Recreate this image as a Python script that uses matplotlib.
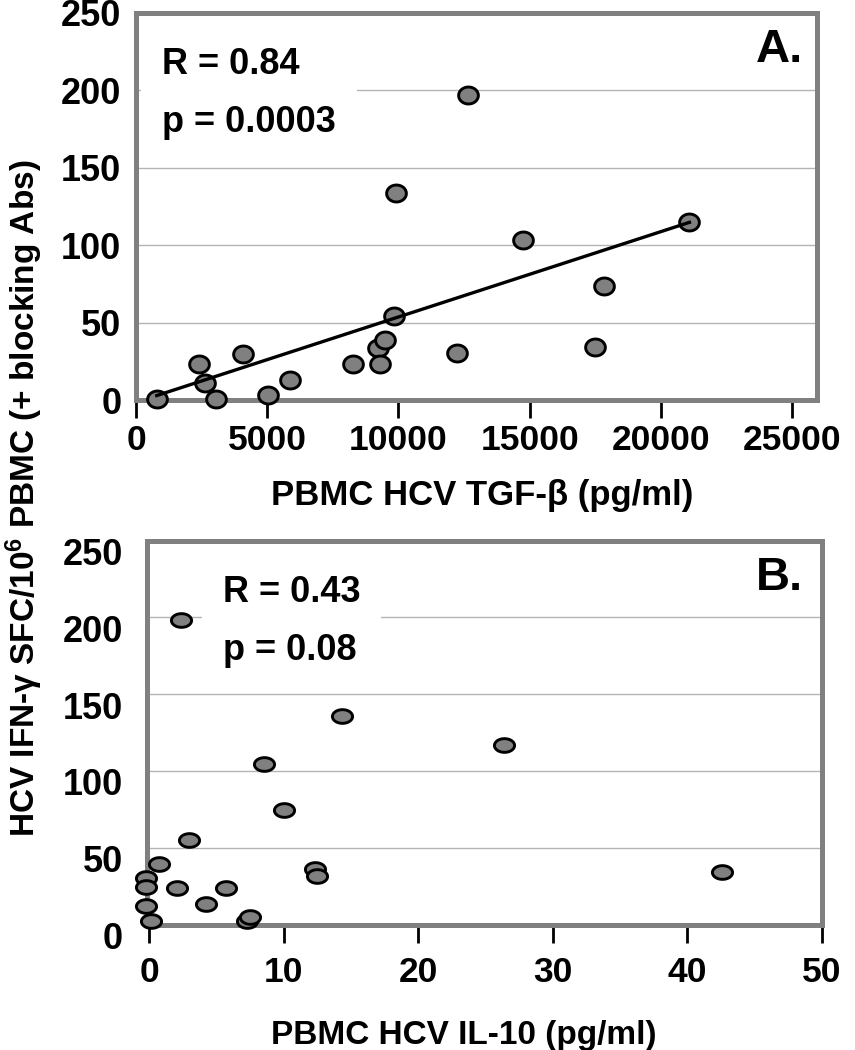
import matplotlib
matplotlib.use('Agg')
import matplotlib.pyplot as plt
import numpy as np
from matplotlib.path import Path
from matplotlib.transforms import ScaledTranslation

plt.rcParams['font.family'] = ['Liberation Sans', 'DejaVu Sans']
plt.rcParams['font.weight'] = 'bold'
plt.rcParams['mathtext.fontset'] = 'custom'
plt.rcParams['mathtext.bf'] = 'Liberation Sans:bold'
plt.rcParams['mathtext.rm'] = 'Liberation Sans:bold'
plt.rcParams['mathtext.default'] = 'bf'

# Panel A: TGF-beta (pg/ml) vs SFC
tgf_x = [790, 2400, 2630, 3050, 4070, 5020, 5880, 8280, 9230, 9300,
         9490, 9830, 9910, 12660, 12240, 14740, 17480, 17820, 21090]
tgf_y = [0.5, 23, 11, 0.8, 29.5, 3.2, 13, 23, 33.4, 23,
         39, 54, 134, 197, 30.6, 103.4, 34.4, 73.6, 115]

# Panel B: IL-10 (pg/ml) vs SFC
il10_x = [2.35, 14.3, 8.5, 10.0, 2.97, 0.7, -0.25, -0.25, -0.25, 0.1,
          2.07, 4.2, 5.7, 7.25, 7.5, 12.3, 12.5, 26.4, 42.6]
il10_y = [198, 135.7, 104.5, 74.7, 55.2, 39.4, 30.3, 24.2, 12.3, 2.2,
          23.8, 13.6, 23.8, 2.2, 4.8, 36.1, 31.8, 117, 34.4]

stats_a = 'R = 0.84\np = 0.0003'
stats_b = 'R = 0.43\np = 0.08'
y_ticks = [0, 50, 100, 150, 200, 250]
xticks_a = [0, 5000, 10000, 15000, 20000, 25000]
xticks_b = [0, 10, 20, 30, 40, 50]

GREY = '#808080'


def ellipse(ratio):
    t = np.linspace(0, 2 * np.pi, 61)
    return Path(np.column_stack([np.cos(t), ratio * np.sin(t)]), closed=True)


def style_axes(ax):
    for s in ax.spines.values():
        s.set_color(GREY)
        s.set_linewidth(3.6)
    ax.set_ylim(0, 250)
    ax.set_yticks(y_ticks)
    ax.yaxis.grid(True, color='#b4b4b4', linewidth=1.0)
    ax.set_axisbelow(True)
    ax.tick_params(axis='y', length=0, labelsize=26)
    ax.tick_params(axis='x', direction='out', length=13, width=2,
                   color='black', labelsize=25.5)


fig = plt.figure(figsize=(8.55, 10.5), dpi=100)

# ---- Panel A ----
axA = fig.add_axes([136 / 855, 1 - 400 / 1050, 681 / 855, 387 / 1050])
style_axes(axA)
axA.set_xlim(0, 25950)
axA.set_xticks(xticks_a)
axA.tick_params(axis='y', pad=10.5)
axA.tick_params(axis='x', pad=4)
axA.plot(tgf_x, tgf_y, linestyle='none', marker=ellipse(0.86), ms=14.2,
         mfc=GREY, mec='black', mew=2.1, zorder=4, clip_on=False)
k, b = np.polyfit(tgf_x, tgf_y, 1)
xl = np.array([min(tgf_x), max(tgf_x)])
axA.plot(xl, k * xl + b, color='black', lw=2.4, zorder=5)
axA.text(0.038, 0.912, stats_a, transform=axA.transAxes, fontsize=26,
         ha='left', va='top', linespacing=1.85,
         bbox=dict(facecolor='white', edgecolor='none', pad=15), zorder=3)
axA.text(0.98, 0.874, 'A.', transform=axA.transAxes, fontsize=34,
         ha='right', va='baseline')

# ---- Panel B ----
axB = fig.add_axes([146.7 / 855, 1 - 924.5 / 1050, 675 / 855, 384 / 1050])
style_axes(axB)
axB.set_xlim(-0.2, 50)
axB.set_xticks(xticks_b)
axB.tick_params(axis='y', pad=17)
axB.tick_params(axis='x', pad=10)
off = ScaledTranslation(0, -11 / 100, fig.dpi_scale_trans)
for lab in axB.get_yticklabels():
    lab.set_transform(lab.get_transform() + off)
axB.plot(il10_x, il10_y, linestyle='none', marker=ellipse(0.68), ms=14.5,
         mfc=GREY, mec='black', mew=2.1, zorder=4, clip_on=False)
axB.text(0.113, 0.910, stats_b, transform=axB.transAxes, fontsize=26,
         ha='left', va='top', linespacing=1.85,
         bbox=dict(facecolor='white', edgecolor='none', pad=15), zorder=3)
axB.text(0.9727, 0.871, 'B.', transform=axB.transAxes, fontsize=34,
         ha='right', va='baseline')

# axis titles
fig.text(482 / 855, 1 - 505 / 1050, 'PBMC HCV TGF-β (pg/ml)', fontsize=25,
         ha='center', va='baseline')
fig.text(464 / 855, 1 - 1044 / 1050, 'PBMC HCV IL-10 (pg/ml)', fontsize=24,
         ha='center', va='baseline')
fig.text(24 / 855, 1 - 498 / 1050,
         'HCV IFN-γ SFC/10$^{6}$ PBMC (+ blocking Abs)', fontsize=24,
         rotation=90, ha='center', va='center')

fig.savefig('out.png', dpi=100)
